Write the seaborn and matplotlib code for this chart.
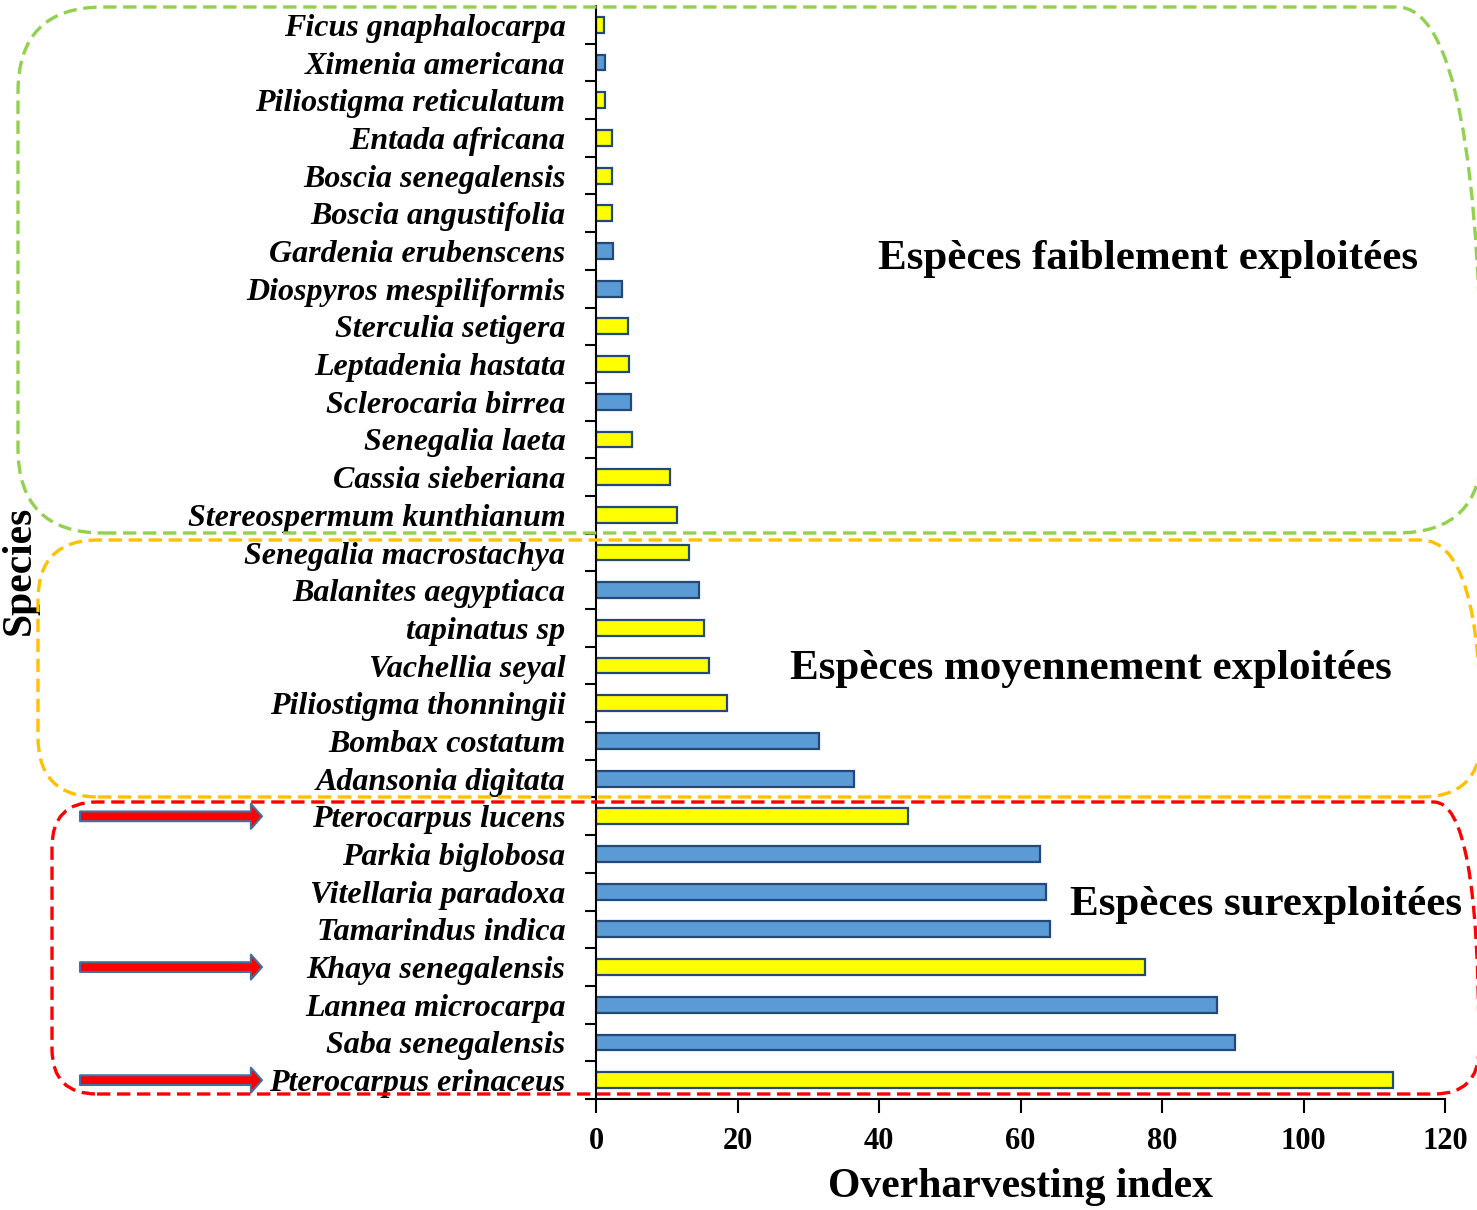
import matplotlib
matplotlib.use("Agg")
import matplotlib.pyplot as plt
import numpy as np
import pandas as pd
import seaborn as sns
from matplotlib.patches import FancyBboxPatch
from matplotlib.transforms import IdentityTransform

species = [
    "Ficus gnaphalocarpa", "Ximenia americana", "Piliostigma reticulatum",
    "Entada africana", "Boscia senegalensis", "Boscia angustifolia",
    "Gardenia erubenscens", "Diospyros mespiliformis", "Sterculia setigera",
    "Leptadenia hastata", "Sclerocaria birrea", "Senegalia laeta",
    "Cassia sieberiana", "Stereospermum kunthianum", "Senegalia macrostachya",
    "Balanites aegyptiaca", "tapinatus sp", "Vachellia seyal",
    "Piliostigma thonningii", "Bombax costatum", "Adansonia digitata",
    "Pterocarpus lucens", "Parkia biglobosa", "Vitellaria paradoxa",
    "Tamarindus indica", "Khaya senegalensis", "Lannea microcarpa",
    "Saba senegalensis", "Pterocarpus erinaceus",
]
overharvest = [
    1.1, 1.3, 1.3, 2.3, 2.3, 2.3, 2.4, 3.7, 4.5, 4.7, 4.9, 5.1,
    10.5, 11.4, 13.1, 14.6, 15.3, 16.0, 18.5, 31.5, 36.5,
    44.1, 62.8, 63.6, 64.2, 77.6, 87.8, 90.3, 112.6,
]
bar_colour = [
    "yellow", "blue", "yellow", "yellow", "yellow", "yellow", "blue", "blue",
    "yellow", "yellow", "blue", "yellow", "yellow", "yellow", "yellow", "blue",
    "yellow", "yellow", "yellow", "blue", "blue", "yellow", "blue", "blue",
    "blue", "yellow", "blue", "blue", "yellow",
]
flagged = ["Pterocarpus lucens", "Khaya senegalensis", "Pterocarpus erinaceus"]

groups = [
    ("Espèces faiblement exploitées", 78, 6.2),
    ("Espèces moyennement exploitées", 70, 17.1),
    ("Espèces surexploitées", 94.7, 23.35),
]

W, H = 1477, 1210

df = pd.DataFrame({"species": species, "index": overharvest, "colour": bar_colour})

sns.set_style("ticks")
plt.rcParams["font.family"] = ["Liberation Serif", "DejaVu Serif"]
plt.rcParams["text.color"] = "black"
plt.rcParams["xtick.color"] = "black"
plt.rcParams["ytick.color"] = "black"
plt.rcParams["axes.labelcolor"] = "black"

fig = plt.figure(figsize=(W / 100, H / 100), dpi=100)
ax = fig.add_axes([596 / W, 1 - 1099 / H, (1445 - 596) / W, (1099 - 6) / H])

sns.barplot(
    data=df, y="species", x="index", hue="colour", order=species,
    palette={"yellow": "#FFFF00", "blue": "#5B9BD5"}, dodge=False,
    saturation=1, width=0.42, orient="h", edgecolor="#23497A", linewidth=1.6,
    legend=False, ax=ax,
)

ax.set_xlim(0, 120)
ax.set_xticks(np.arange(0, 121, 20))
ax.set_ylim(len(species) - 0.5, -0.5)
ax.set_yticks(np.arange(len(species) - 0.5, 0, -1), minor=True)
ax.tick_params(axis="y", which="major", length=0, pad=22)
ax.tick_params(axis="y", which="minor", length=8, width=1.5, direction="out")
ax.tick_params(axis="x", length=10, width=1.5, direction="out", pad=10)
for lab in ax.get_yticklabels():
    lab.set_fontsize(23)
    lab.set_fontweight("bold")
    lab.set_fontstyle("italic")
for lab in ax.get_xticklabels():
    lab.set_fontsize(22)
    lab.set_fontweight("bold")

for side in ["top", "right"]:
    ax.spines[side].set_visible(False)
for side in ["left", "bottom"]:
    ax.spines[side].set_linewidth(1.5)
    ax.spines[side].set_color("black")

ax.set_ylabel("")
ax.set_xlabel("Overharvesting index", fontsize=30, fontweight="bold", labelpad=9)
fig.text(20 / W, 1 - 570 / H, "Species", rotation=90, fontsize=30,
         fontweight="bold", ha="center", va="center")

for txt, x, y in groups:
    ax.text(x, y, txt, fontsize=31, fontweight="bold", ha="center",
            va="center", clip_on=False)


# dashed rounded frames, given in pixel coords measured from top-left
def frame(left, top, right, bottom, radius, colour):
    box = FancyBboxPatch(
        (left, H - bottom), right - left, bottom - top,
        boxstyle=f"round,pad=0,rounding_size={radius}",
        transform=IdentityTransform(), fill=False, edgecolor=colour,
        linewidth=2.4, linestyle=(0, (4, 2)), clip_on=False, zorder=5,
    )
    fig.add_artist(box)


frame(18, 7, 1482, 533, 85, "#92D050")
frame(38, 540, 1481, 797, 60, "#FFC000")
frame(52, 802, 1479, 1094, 45, "#FF0000")

for name in flagged:
    yc = species.index(name)
    ax.annotate(
        "", xy=(262, yc), xycoords=("figure pixels", "data"),
        xytext=(80, yc), textcoords=("figure pixels", "data"),
        arrowprops=dict(width=7, headwidth=18, headlength=8,
                        facecolor="#FF0000", edgecolor="#41719C", lw=1.5),
        annotation_clip=False,
    )

fig.savefig("out.png", dpi=100)
